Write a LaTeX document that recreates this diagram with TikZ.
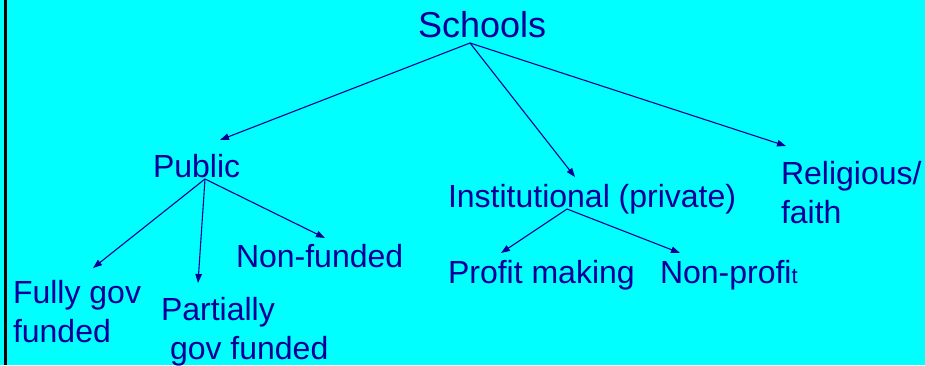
\documentclass[tikz,border=0pt]{standalone}
\usepackage{fontspec}
\setmainfont{Liberation Sans}
\usetikzlibrary{arrows.meta}
\definecolor{bgcyan}{RGB}{0,255,255}
\definecolor{navy}{RGB}{0,0,153}
\newcommand{\lbl}[1]{\begin{tabular}[t]{@{}l@{}}#1\end{tabular}}
\begin{document}
\begin{tikzpicture}[x=1pt,y=-1pt,
  label/.style={anchor=base west,inner sep=0pt,outer sep=0pt,text=navy,
    font=\fontsize{32}{39}\selectfont},
  title/.style={label,font=\fontsize{36}{43}\selectfont},
  branch/.style={draw=navy,line width=1.1pt,
    -{Triangle[length=9pt,width=6.5pt]}}]
  % page and left rule
  \fill[bgcyan] (0,0) rectangle (925,365);
  \useasboundingbox (0,0) rectangle (925,365);
  \draw[black,line width=2.7pt] (5.3,0) -- (5.3,365);

  % labels
  \node[title] (schools) at (418,37) {Schools};
  \node[label] (public) at (153,177) {Public};
  \node[label] (inst) at (448,207) {Institutional (private)};
  \node[label] (relig) at (781,184) {\lbl{Religious/\\faith}};
  \node[label] (fully) at (13,303) {\lbl{Fully gov\\funded}};
  \node[label] (partial) at (161,320) {\lbl{Partially\\\hspace{9pt}gov funded}};
  \node[label] (nonfund) at (236,267) {Non-funded};
  \node[label] (profit) at (448,283) {Profit making};
  \node[label] (nonprofit) at (660,283) {Non-profi{\fontsize{22}{26}\selectfont t}};

  % branch points and arrow ends
  \coordinate (sRoot) at (470,43);
  \coordinate (pRoot) at (205,179);
  \coordinate (iRoot) at (567,209);
  \coordinate (toPublic) at (220,140);
  \coordinate (toInst) at (575,177);
  \coordinate (toRelig) at (786,146);
  \coordinate (toFully) at (93,268);
  \coordinate (toPartial) at (198,283);
  \coordinate (toNonfund) at (325,238);
  \coordinate (toProfit) at (501,253);
  \coordinate (toNonprofit) at (680,253);

  % connectors
  \draw[branch] (sRoot) -- (toPublic);
  \draw[branch] (sRoot) -- (toInst);
  \draw[branch] (sRoot) -- (toRelig);
  \draw[branch] (pRoot) -- (toFully);
  \draw[branch] (pRoot) -- (toPartial);
  \draw[branch] (pRoot) -- (toNonfund);
  \draw[branch] (iRoot) -- (toProfit);
  \draw[branch] (iRoot) -- (toNonprofit);
\end{tikzpicture}
\end{document}
